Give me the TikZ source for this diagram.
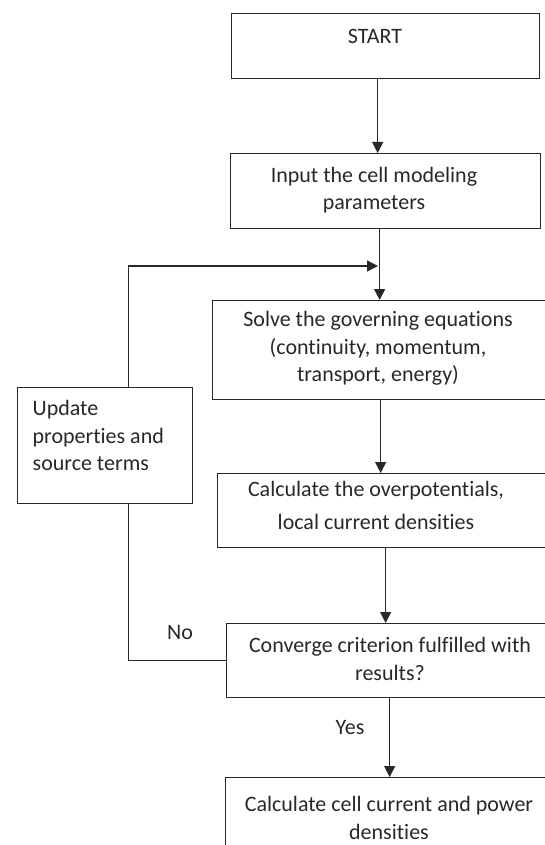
\documentclass[tikz,border=0pt]{standalone}
\usepackage{fontspec}
\setmainfont{Carlito}[Ligatures=NoCommon]
\usetikzlibrary{arrows.meta}
\definecolor{inkgray}{RGB}{40,40,40}

\begin{document}
\begin{tikzpicture}[x=1pt, y=-1pt, color=inkgray, line width=1.3pt,
  >={Triangle[length=11pt,width=11pt]}]
% Stile
\tikzset{
  box/.style={rectangle, draw, anchor=north west, inner sep=0pt},
  flowtext/.style={align=center, inner sep=0pt, font=\fontsize{22}{27.5}\selectfont},
  sidetext/.style={align=left, anchor=west, inner sep=0pt, font=\fontsize{22}{27.5}\selectfont}
}
\useasboundingbox (0,0) rectangle (545,845);
\clip (0,0) rectangle (545,845);

% Kaesten
\node[box, minimum width=308, minimum height=65] (start) at (231,13) {};
\node[box, minimum width=310, minimum height=75] (input) at (230,153) {};
\node[box, minimum width=350, minimum height=99] (solve) at (212,300) {};
\node[box, minimum width=350, minimum height=74] (calc) at (217,473) {};
\node[box, minimum width=340, minimum height=74] (conv) at (226,623) {};
\node[box, minimum width=340, minimum height=100] (final) at (225,777) {};
\node[box, minimum width=175, minimum height=116] (update) at (17,387) {};

% Texte
\node[flowtext] (start_txt) at (375,36) {START};
\node[flowtext] (input_txt) at (374,190) {Input the cell modeling\\parameters};
\node[flowtext] (solve_txt) at (378,348.5) {Solve the governing equations\\(continuity, momentum,\\transport, energy)};
\node[flowtext] (calc_txt) at (376,505.5) {Calculate the overpotentials,\\[6pt]local current densities};
\node[flowtext] (conv_txt) at (390,659) {Converge criterion fulfilled with\\results?};
\node[flowtext] (final_txt) at (389,818) {Calculate cell current and power\\densities};
\node[sidetext] (update_txt) at (32,435.5) {Update\\properties and\\source terms};
\node[flowtext] (no_lbl) at (180,633) {No};
\node[flowtext] (yes_lbl) at (350,728) {Yes};

% Verbindungen
\coordinate (merge) at (378,266);
\draw[->] ([xshift=-8pt]start.south) -- ([xshift=-8pt]start.south |- input.north);
\draw[->] ([xshift=-6pt]input.south) -- ([xshift=-6pt]input.south |- solve.north);
\draw[->] ([xshift=-7pt]solve.south) -- ([xshift=-7pt]solve.south |- calc.north);
\draw[->] ([xshift=-7pt]calc.south) -- ([xshift=-7pt]calc.south |- conv.north);
\draw[->] ([xshift=-7pt]conv.south) -- ([xshift=-7pt]conv.south |- final.north);
\draw (conv.west) -| ([xshift=23.5pt]update.south);
\draw[->] ([xshift=23.5pt]update.north) |- (merge);

\end{tikzpicture}
\end{document}
